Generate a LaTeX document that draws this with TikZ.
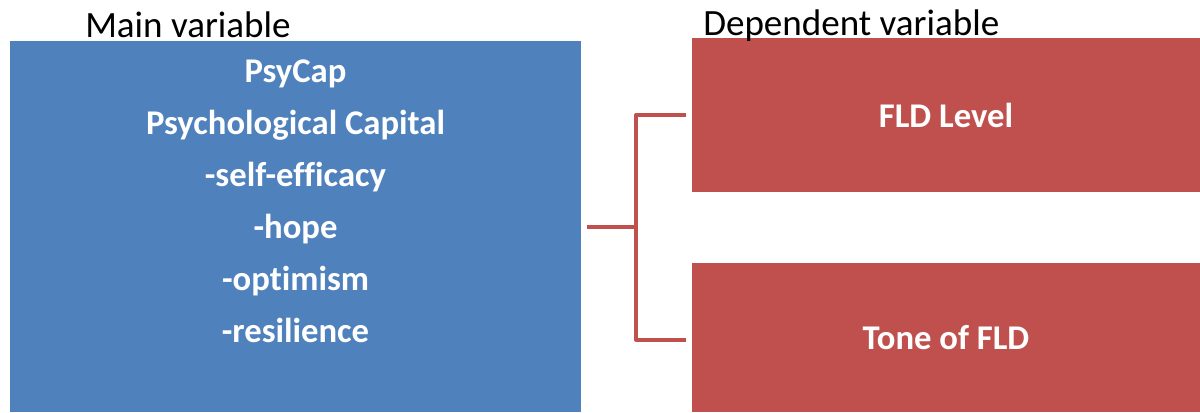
\documentclass[tikz,border=0pt]{standalone}
\usepackage{fontspec}
\setmainfont{Carlito}[Ligatures=NoCommon]
\definecolor{boxblue}{HTML}{4F81BD}
\definecolor{boxred}{HTML}{C0504D}
\begin{document}
\begin{tikzpicture}[x=0.75pt,y=-0.75pt,
  bluebox/.style={fill=boxblue, draw=none, inner sep=0pt, minimum width=428.25pt, minimum height=278.25pt},
  redbox/.style={fill=boxred, draw=none, inner sep=0pt, minimum width=381pt, text=white, font=\fontsize{26pt}{30pt}\selectfont\bfseries},
  boxtext/.style={text=white, align=center, inner sep=0pt, font=\fontsize{26pt}{39pt}\selectfont\bfseries},
  heading/.style={anchor=base west, inner sep=0pt, font=\fontsize{27.8pt}{32pt}\selectfont},
  conn/.style={draw=boxred, line width=3pt}]
\useasboundingbox (0,0) rectangle (1200,412);
\node[bluebox] (main) at (295.5,226.5) {};
\node[boxtext] (maintext) at (295.5,201) {PsyCap\\Psychological Capital\\-self-efficacy\\-hope\\-optimism\\-resilience};
\node[redbox, minimum height=115.5pt] (fld) at (946,115) {FLD Level};
\node[redbox, minimum height=111.75pt] (tone) at (946,337.5) {Tone of FLD};
\node[heading] (mainlab) at (85,37) {Main variable};
\node[heading] (deplab) at (703,35) {Dependent variable};
\coordinate (s) at (587,227);
\coordinate (j) at (636,227);
\coordinate (jt) at (636,115);
\coordinate (jb) at (636,339.5);
\coordinate (et) at (686,115);
\coordinate (eb) at (686,339.5);
\draw[conn] (s) -- (j);
\draw[conn, line join=round] (et) -- (jt) -- (jb) -- (eb);
\end{tikzpicture}
\end{document}
